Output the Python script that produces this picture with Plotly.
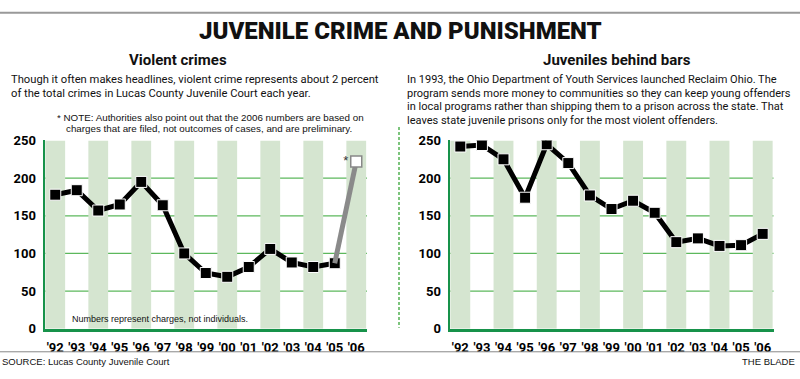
import plotly.graph_objects as go

W, H = 800, 379

years = ["'92", "'93", "'94", "'95", "'96", "'97", "'98", "'99", "'00", "'01", "'02", "'03", "'04", "'05", "'06"]
violent = [178, 184, 157, 165, 195, 164, 100, 74, 69, 82, 106, 88, 82, 87]
violent_2006 = 222
behind_bars = [242, 244, 225, 174, 245, 220, 177, 159, 170, 154, 115, 120, 110, 111, 126]
y_ticks = [0, 50, 100, 150, 200, 250]
grid_vals = [50, 100, 150, 200]

GREEN = "#17924a"
GRID = "#5cb85c"
BAND = "#d5e5d0"
COND = "Roboto, Liberation Sans, sans-serif"
REG = "Liberation Sans, Arial, sans-serif"


def px(x):
    return x / W


def py(y):
    return 1 - y / H


fig = go.Figure()

idx = list(range(len(years)))

# left chart
fig.add_trace(go.Scatter(
    x=idx[:len(violent)], y=violent, mode="lines+markers",
    line=dict(color="black", width=5),
    marker=dict(symbol="square", size=11, color="black", line=dict(color="white", width=1)),
    xaxis="x", yaxis="y", showlegend=False, hoverinfo="skip"))
fig.add_trace(go.Scatter(
    x=[idx[len(violent) - 1], idx[len(violent)]], y=[violent[-1], violent_2006], mode="lines",
    line=dict(color="#8a8a8a", width=5),
    xaxis="x", yaxis="y", showlegend=False, hoverinfo="skip"))
fig.add_trace(go.Scatter(
    x=[idx[len(violent)]], y=[violent_2006], mode="markers+text",
    marker=dict(symbol="square", size=11, color="white", line=dict(color="#888", width=1.5)),
    text=["*"], textposition="middle left", textfont=dict(size=13, color="#333", family=REG),
    xaxis="x", yaxis="y", showlegend=False, hoverinfo="skip"))

# right chart
fig.add_trace(go.Scatter(
    x=idx, y=behind_bars, mode="lines+markers",
    line=dict(color="black", width=5),
    marker=dict(symbol="square", size=11, color="black", line=dict(color="white", width=1)),
    xaxis="x2", yaxis="y2", showlegend=False, hoverinfo="skip"))

shapes = []
for xa, ya in (("x", "y"), ("x2", "y2")):
    for i in idx[::2]:
        shapes.append(dict(type="rect", xref=xa, yref=ya, x0=i - 0.46, x1=i + 0.46, y0=0, y1=250,
                           fillcolor=BAND, line=dict(width=0), layer="below"))
    for g in grid_vals:
        shapes.append(dict(type="line", xref=xa + " domain", yref=ya, x0=0, x1=1, y0=g, y1=g,
                           line=dict(color=GRID, width=1.2), layer="below"))

# rules
shapes.append(dict(type="line", xref="paper", yref="paper", x0=0, x1=1, y0=py(6), y1=py(6),
                   line=dict(color="#999", width=2)))
shapes.append(dict(type="line", xref="paper", yref="paper", x0=0, x1=1, y0=py(359), y1=py(359),
                   line=dict(color="#888", width=1)))
shapes.append(dict(type="line", xref="paper", yref="paper", x0=px(399), x1=px(399), y0=py(125), y1=py(334),
                   line=dict(color="#7cc47c", width=2, dash="3px,2px")))

axis_common = dict(showgrid=False, zeroline=False, showline=True, linecolor=GREEN, ticks="",
                   fixedrange=True)
xt = dict(family=COND, size=13, color="black", weight="bold")

fig.update_layout(
    width=W, height=H, margin=dict(l=0, r=0, t=0, b=0),
    paper_bgcolor="white", plot_bgcolor="white",
    shapes=shapes,
    xaxis=dict(domain=[px(44.5), px(367)], range=[-0.5, 14.5], anchor="y",
               tickvals=idx, ticktext=years, linewidth=3, tickangle=0, ticklabelstandoff=5,
               tickfont=xt, **axis_common),
    yaxis=dict(domain=[py(335), py(139)], range=[0, 250], anchor="x",
               tickvals=y_ticks, linewidth=2, ticklabelstandoff=4,
               tickfont=xt, **axis_common),
    xaxis2=dict(domain=[px(449.5), px(773.5)], range=[-0.5, 14.5], anchor="y2",
                tickvals=idx, ticktext=years, linewidth=3, tickangle=0, ticklabelstandoff=5,
                tickfont=xt, **axis_common),
    yaxis2=dict(domain=[py(335), py(139)], range=[0, 250], anchor="x2",
                tickvals=y_ticks, linewidth=2, ticklabelstandoff=4,
                tickfont=xt, **axis_common),
)


def note(text, x, y, size, family=COND, xanchor="left", weight="normal", color="#111"):
    fig.add_annotation(text=text, x=px(x), y=py(y), xref="paper", yref="paper",
                       xanchor=xanchor, yanchor="middle", showarrow=False, align="left",
                       font=dict(family=family, size=size, color=color, weight=weight))


note("JUVENILE CRIME AND PUNISHMENT", 400, 25, 24, xanchor="center", weight=900)
note("Violent crimes", 178, 55, 15, xanchor="center", weight="bold")
note("Juveniles behind bars", 617, 55, 15, xanchor="center", weight="bold")

left_par = ["Though it often makes headlines, violent crime represents about 2 percent",
            "of the total crimes in Lucas County Juvenile Court each year."]
for k, t in enumerate(left_par):
    note(t, 9, 76 + 14 * k, 11.2)

right_par = ["In 1993, the Ohio Department of Youth Services launched Reclaim Ohio. The",
             "program sends more money to communities so they can keep young offenders",
             "in local programs rather than shipping them to a prison across the state. That",
             "leaves state juvenile prisons only for the most violent offenders."]
for k, t in enumerate(right_par):
    note(t, 405, 76 + 14 * k, 11)

note("* NOTE: Authorities also point out that the 2006 numbers are based on", 55, 115, 9.8, family=REG)
note("charges that are filed, not outcomes of cases, and are preliminary.", 64, 127, 9.8, family=REG)
note("Numbers represent charges, not individuals.", 70, 325, 9, family=REG)
note("SOURCE: Lucas County Juvenile Court", 0, 369, 9.5, family=REG)
note("THE BLADE", 797, 369, 9.5, family=REG, xanchor="right")

fig.write_html("out.html", config={"displayModeBar": False},
               post_script="document.body.style.margin='0';document.body.style.overflow='hidden';")
